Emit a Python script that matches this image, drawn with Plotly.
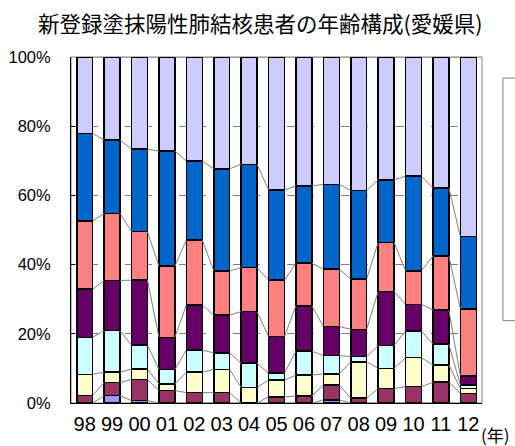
import plotly.graph_objects as go

# Age composition of newly registered smear-positive pulmonary TB patients (Ehime)
years = ["98", "99", "00", "01", "02", "03", "04", "05", "06", "07", "08", "09", "10", "11", "12"]

age_groups = ["0～29歳", "30～39歳", "40～49歳", "50～59歳", "60～69歳", "70～79歳", "80～89歳", "90歳～"]

share_0_29 = [0, 2.1, 0.7, 0, 0, 0, 0, 0, 0, 0.9, 0, 0, 0, 0, 0]
share_30s = [2.2, 3.8, 6.1, 3.6, 3.0, 3.0, 0, 1.8, 2.0, 4.3, 1.4, 4.2, 4.7, 6.0, 2.8]
share_40s = [6.1, 3.0, 3.0, 1.9, 5.9, 6.7, 4.5, 4.8, 6.1, 3.2, 10.5, 5.8, 8.4, 5.0, 1.4]
share_50s = [10.7, 12.0, 6.9, 4.2, 6.4, 4.8, 7.0, 2.0, 6.9, 5.3, 1.5, 6.6, 7.7, 6.0, 1.0]
share_60s = [13.9, 14.5, 18.8, 9.3, 13.0, 10.9, 14.9, 10.6, 13.1, 8.4, 7.9, 15.6, 7.7, 9.9, 2.6]
share_70s = [19.7, 19.4, 14.0, 20.6, 18.8, 12.8, 12.7, 16.3, 12.3, 16.6, 14.5, 14.2, 9.7, 15.6, 19.4]
share_80s = [25.3, 21.2, 23.9, 33.2, 22.8, 29.5, 29.9, 26.1, 22.3, 24.5, 25.6, 18.1, 27.4, 19.7, 20.9]
share_90plus = [22.1, 24.0, 26.6, 27.2, 30.1, 32.3, 31.0, 38.4, 37.3, 36.8, 38.6, 35.5, 34.4, 37.8, 51.9]

series = [share_0_29, share_30s, share_40s, share_50s, share_60s, share_70s, share_80s, share_90plus]
colors = ["#9999FF", "#993366", "#FFFFCC", "#CCFFFF", "#660066", "#FF8080", "#0066CC", "#CCCCFF"]

y_ticks = [0, 20, 40, 60, 80, 100]
y_ticktext = ["0%", "20%", "40%", "60%", "80%", "100%"]

BAR_W = 0.58
xs = list(range(len(years)))

fig = go.Figure()

for name, vals, col in zip(age_groups, series, colors):
    fig.add_trace(go.Bar(
        x=xs, y=vals, name=name, width=BAR_W,
        marker=dict(color=col, line=dict(color="black", width=1.5)),
        showlegend=False,
    ))

# Series lines joining the top edge of each segment between neighbouring bars
totals = [sum(s[i] for s in series) for i in xs]
lx, ly = [], []
running = [0.0] * len(xs)
for vals in series:
    running = [running[i] + vals[i] for i in xs]
    pct = [100 * running[i] / totals[i] for i in xs]
    for i in xs[:-1]:
        lx += [i + BAR_W / 2, i + 1 - BAR_W / 2, None]
        ly += [pct[i], pct[i + 1], None]
fig.add_trace(go.Scatter(
    x=lx, y=ly, mode="lines", line=dict(color="#808080", width=1),
    hoverinfo="skip", showlegend=False,
))

fig.update_layout(
    width=515, height=446,
    margin=dict(l=71, r=33, t=57, b=43),
    barmode="stack", barnorm="percent",
    paper_bgcolor="white", plot_bgcolor="white",
    font=dict(family="Liberation Sans, Arial, sans-serif", color="black"),
    xaxis=dict(
        range=[-0.5, len(years) - 0.5], tickvals=xs, ticktext=years,
        showline=True, linecolor="black", linewidth=1, showgrid=False,
        zeroline=False, ticks="", tickfont=dict(size=20), ticklabelstandoff=3,
        automargin=False,
    ),
    yaxis=dict(
        range=[0, 100], tickvals=y_ticks, ticktext=y_ticktext,
        showline=True, linecolor="black", linewidth=1,
        showgrid=True, gridcolor="#808080", gridwidth=1, griddash="dash",
        zeroline=False, ticks="inside", ticklen=4, tickcolor="black",
        tickfont=dict(size=16.5), ticklabelstandoff=16, automargin=False,
    ),
    shapes=[
        dict(type="rect", xref="paper", yref="paper", x0=0, x1=1, y0=0, y1=1,
             line=dict(color="#808080", width=1), layer="below"),
        dict(type="rect", xref="paper", yref="paper", x0=1.051, x1=1.2, y0=0.238, y1=0.939,
             line=dict(color="#808080", width=1), fillcolor="rgba(0,0,0,0)"),
    ],
    annotations=[
        dict(text="新登録塗抹陽性肺結核患者の年齢構成(愛媛県)", xref="paper", yref="paper",
             x=0.462, y=1.101, xanchor="center", yanchor="middle", showarrow=False,
             font=dict(family="Noto Sans CJK JP", size=21.5, color="black")),
        dict(text="(年)", xref="paper", yref="paper",
             x=1.034, y=-0.09, xanchor="center", yanchor="middle", showarrow=False,
             font=dict(family="Noto Sans CJK JP", size=17, color="black")),
    ],
)

fig.write_html("out.html")
